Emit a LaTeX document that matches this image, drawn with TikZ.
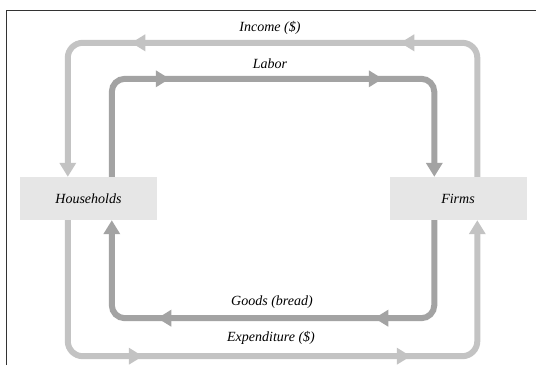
\documentclass[tikz,border=0pt]{standalone}
\usepackage{fontspec}
\setmainfont{Liberation Serif}
\usetikzlibrary{arrows.meta,calc,decorations.markings}
\definecolor{lite}{HTML}{C3C3C3}
\definecolor{dark}{HTML}{A3A3A3}
\definecolor{boxfill}{HTML}{E6E6E6}
\definecolor{framecol}{HTML}{333333}
\begin{document}
\begin{tikzpicture}[x=1pt,y=-1pt,
  flowtip/.tip={Triangle[length=14pt,width=16pt]},
  flowout/.style={color=lite,line width=6pt,rounded corners=15pt,-{flowtip}},
  flowin/.style={color=dark,line width=6pt,rounded corners=13pt,-{flowtip}},
  midtips/.style 2 args={postaction={decorate,decoration={markings,
     mark=at position #1 with {\arrow{flowtip}},
     mark=at position #2 with {\arrow{flowtip}}}}},
  agent/.style={fill=boxfill,minimum width=137pt,minimum height=43pt,inner sep=0pt,
     font=\itshape\fontsize{14}{16}\selectfont},
  lbl/.style={font=\itshape\fontsize{14}{16}\selectfont}]
\useasboundingbox (0,0) rectangle (536,365);
\draw[framecol,line width=0.8pt] (6,365) -- (6,10) -- (536,10);

\node[agent] (hh) at (88.5,198.5) {Households};
\node[agent] (fi) at (458,198.5) {Firms};

% Income
\draw[flowout,midtips={204.6pt}{473.6pt}]
  ($(fi.north west)+(88,0)$) -- ++(0,-134) -| ($(hh.north west)+(48,0)$);
% Labor
\draw[flowin,midtips={150.4pt}{363.4pt}]
  ($(hh.north west)+(92,0)$) -- ++(0,-98) -| ($(fi.north west)+(45,0)$);
% Goods
\draw[flowin,midtips={152.4pt}{369.4pt}]
  ($(fi.south west)+(45,0)$) -- ++(0,98) -| ($(hh.south west)+(92,0)$);
% Expenditure
\draw[flowout,midtips={204.6pt}{472.6pt}]
  ($(hh.south west)+(48,0)$) -- ++(0,136) -| ($(fi.south west)+(88,0)$);

\node[lbl] (inc) at (270,28) {Income (\$)};
\node[lbl] (lab) at (270,64) {Labor};
\node[lbl] (goo) at (272,302) {Goods (bread)};
\node[lbl] (exp) at (271,338) {Expenditure (\$)};
\end{tikzpicture}
\end{document}
